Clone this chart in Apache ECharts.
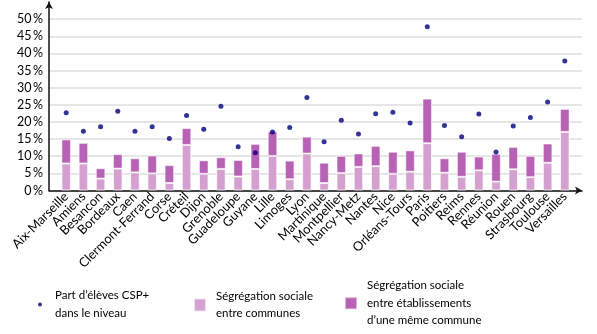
<!DOCTYPE html>
<html><head><meta charset="utf-8">
<script src="https://cdn.jsdelivr.net/npm/echarts@6/dist/echarts.min.js"></script>
<style>html,body{margin:0;padding:0;background:#fff}#c{width:597px;height:334px}</style>
</head><body><div id="c"></div>
<script>
const categories = ['Aix-Marseille','Amiens','Besancon','Bordeaux','Caen','Clermont-Ferrand','Corse','Créteil','Dijon','Grenoble','Guadeloupe','Guyane','Lille','Limoges','Lyon','Martinique','Montpellier','Nancy-Metz','Nantes','Nice','Orléans-Tours','Paris','Poitiers','Reims','Rennes','Réunion','Rouen','Strasbourg','Toulouse','Versailles'];
const segCommunes = [7.9,7.9,3.5,6.4,5.3,5.0,2.2,13.3,4.9,6.3,4.1,6.3,10.1,3.3,10.8,2.2,5.1,6.9,7.1,4.9,5.5,13.8,5.2,4.0,5.9,2.6,6.2,3.9,8.1,17.1];
const segEtab = [7.0,6.0,3.0,4.2,4.1,5.2,5.2,4.9,3.9,3.4,4.8,7.3,7.2,5.4,4.9,5.9,5.0,3.9,5.9,6.4,6.2,13.0,4.2,7.3,4.0,8.1,6.5,6.2,5.6,6.7];
const partCSP = [22.7,17.3,18.6,23.1,17.3,18.6,15.2,21.9,17.9,24.6,12.8,11.0,17.1,18.4,27.1,14.2,20.5,16.5,22.4,22.8,19.7,47.8,19.0,15.7,22.3,11.2,18.8,21.3,25.8,37.8];
const yTicks = [0,5,10,15,20,25,30,35,40,45,50];

const NAME_DOT = 'Part d\u2019élèves CSP+\ndans le niveau';
const NAME_COM = 'Ségrégation sociale\nentre communes';
const NAME_ETAB = 'Ségrégation sociale\nentre établissements\nd\u2019une même commune';

const pad = a => [null, ...a, null];
const FONT = 'Lato';
const chart = echarts.init(document.getElementById('c'), null, {renderer:'canvas'});
const legendBase = {orient:'horizontal', padding:0, selectedMode:false,
  textStyle:{fontFamily:FONT, fontSize:11.5, color:'#000', lineHeight:17.5, padding:[0,0,0,5]}};
chart.setOption({
  animation:false,
  textStyle:{fontFamily:FONT},
  grid:{left:49, right:15, top:2, bottom:143.5, containLabel:false},
  xAxis:{type:'category', boundaryGap:false, data:['', ...categories, ''],
    axisLine:{lineStyle:{color:'#111', width:1.5}, symbol:['none','arrow'], symbolSize:[6,7]},
    axisTick:{show:false},
    axisLabel:{interval:0, rotate:45, margin:4, fontFamily:FONT, fontSize:12.8, color:'#000'},
    splitLine:{show:false}},
  yAxis:{type:'value', min:0, max:55, interval:5,
    axisLine:{show:true, lineStyle:{color:'#111', width:1.5}, symbol:['none','arrow'], symbolSize:[6,7]},
    axisTick:{show:false},
    axisLabel:{margin:6, fontFamily:FONT, fontSize:12.5, color:'#000', showMaxLabel:false,
      formatter:v => yTicks.includes(v) ? v + '\u2009%' : ''},
    splitLine:{show:true, showMaxLine:false, lineStyle:{color:'#dedede', width:1.5}}},
  legend:[
    Object.assign({}, legendBase, {left:38, top:287, data:[{name:NAME_DOT, icon:'circle'}], itemWidth:10, itemHeight:4}),
    Object.assign({}, legendBase, {left:193, top:287.5, data:[{name:NAME_COM, icon:'rect'}], itemWidth:12, itemHeight:13}),
    Object.assign({}, legendBase, {left:344, top:277, data:[{name:NAME_ETAB, icon:'rect'}], itemWidth:12, itemHeight:12})
  ],
  series:[
    {name:NAME_COM, type:'bar', stack:'s', data:pad(segCommunes), barWidth:9.5,
      itemStyle:{color:'#d4a0d0', borderColor:'rgba(255,255,255,0.7)', borderWidth:1}},
    {name:NAME_ETAB, type:'bar', stack:'s', data:pad(segEtab), barWidth:9.5,
      itemStyle:{color:'#b762b5', borderColor:'rgba(255,255,255,0.5)', borderWidth:1}},
    {name:NAME_DOT, type:'scatter', data:pad(partCSP), symbolSize:5, z:5,
      itemStyle:{color:'#00007a'}}
  ]
});
</script></body></html>
